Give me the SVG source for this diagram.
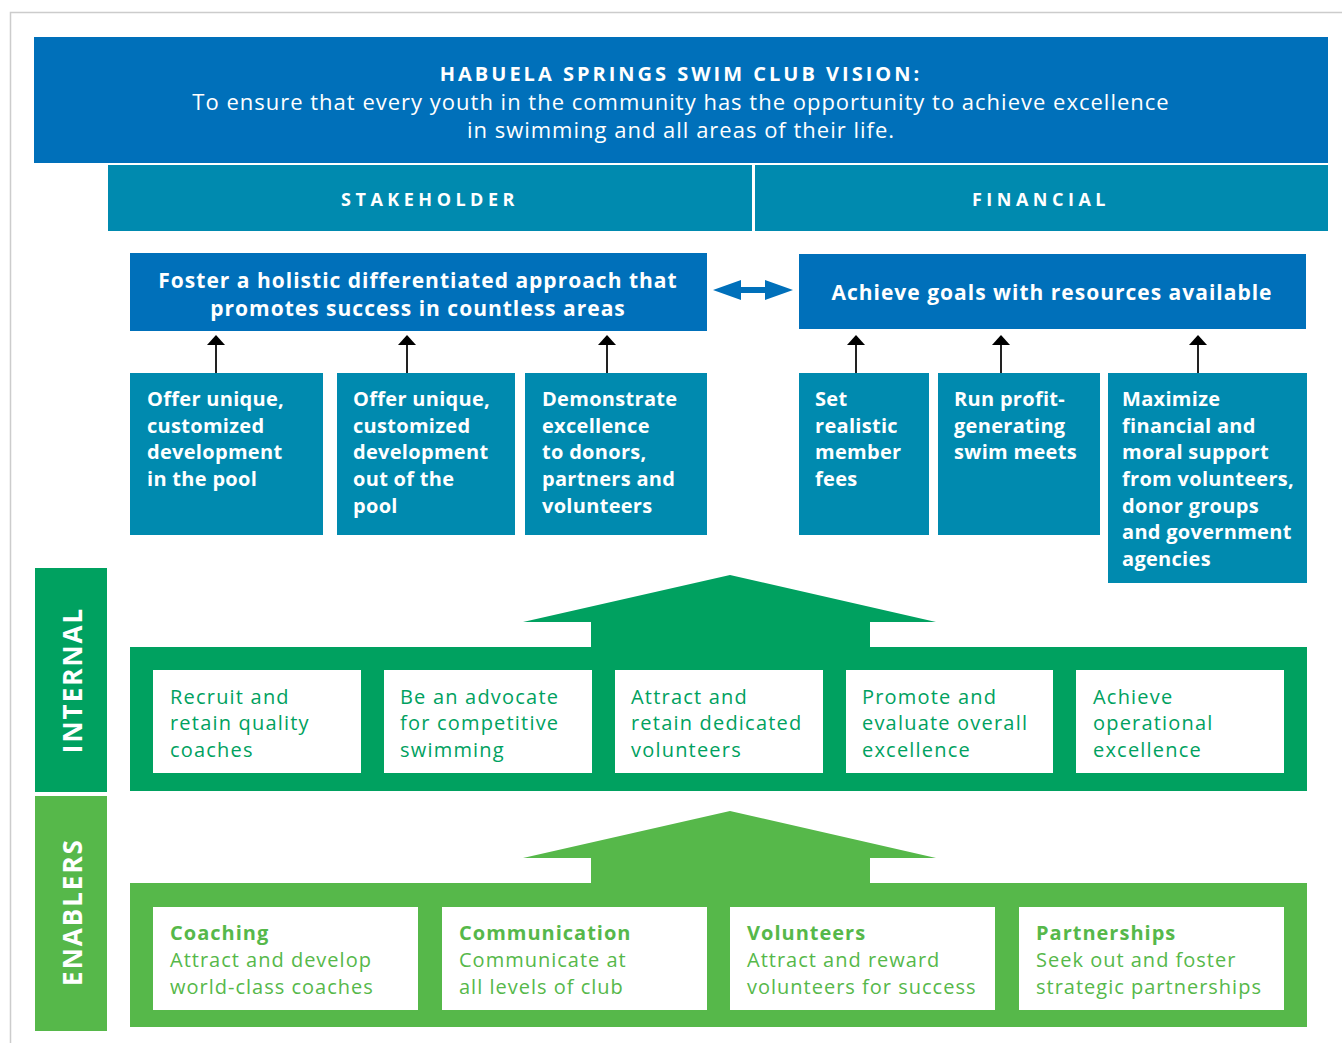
<svg xmlns="http://www.w3.org/2000/svg" width="1342" height="1043" viewBox="0 0 1342 1043">
<style>
  text { font-family: "Open Sans", "Liberation Sans", sans-serif; }
  .blue { fill: #0070BA; }
  .teal { fill: #008AAF; }
  .g1 { fill: #00A160; }
  .g2 { fill: #56B84A; }
  .wt { fill: #ffffff; }
  .hd { font-size: 20px; font-weight: 700; letter-spacing: 3px; fill: #fff; }
  .sub { font-size: 22px; letter-spacing: 1px; fill: #fff; }
  .cat { font-size: 18px; font-weight: 700; letter-spacing: 4.5px; fill: #fff; }
  .obj { font-size: 21px; font-weight: 700; letter-spacing: 1px; fill: #fff; }
  .tb { font-size: 20px; font-weight: 700; letter-spacing: 0.3px; fill: #fff; }
  .side { font-size: 26px; font-weight: 700; letter-spacing: 2px; fill: #fff; }
  .it { font-size: 20px; letter-spacing: 1.2px; fill: #00A160; }
  .et { font-size: 20px; letter-spacing: 1px; fill: #56B84A; }
  .etb { font-size: 20px; font-weight: 700; letter-spacing: 1px; fill: #56B84A; }
  .conn { stroke: #222; stroke-width: 2; fill: none; }
</style>
<defs>
  <marker id="ah" markerWidth="10" markerHeight="18" refX="0" refY="9" orient="auto" markerUnits="userSpaceOnUse" viewBox="0 0 10 18">
    <path d="M0,0 L10,9 L0,18 Z" fill="#000"/>
  </marker>
</defs>
<rect width="1342" height="1043" fill="#fff"/>
<path d="M10.5,1043 V12.5 H1342" stroke="#cccccc" stroke-width="1.5" fill="none"/>

<g id="vision">
  <rect x="34" y="37" width="1294" height="126" class="blue"/>
  <text x="681" y="81" text-anchor="middle" class="hd">HABUELA SPRINGS SWIM CLUB VISION:</text>
  <text x="681" y="110" text-anchor="middle" class="sub">To ensure that every youth in the community has the opportunity to achieve excellence</text>
  <text x="681" y="138" text-anchor="middle" class="sub">in swimming and all areas of their life.</text>
</g>
<g id="stakeholder">
  <rect x="108" y="165" width="644" height="66" class="teal"/>
  <text x="430" y="206" text-anchor="middle" class="cat">STAKEHOLDER</text>
</g>
<g id="financial">
  <rect x="755" y="165" width="573" height="66" class="teal"/>
  <text x="1041" y="206" text-anchor="middle" class="cat">FINANCIAL</text>
</g>

<g id="foster">
  <rect x="130" y="253" width="577" height="78" class="blue"/>
  <text x="418" y="288" text-anchor="middle" class="obj">Foster a holistic differentiated approach that</text>
  <text x="418" y="316" text-anchor="middle" class="obj">promotes success in countless areas</text>
</g>
<g id="achieve">
  <rect x="799" y="254" width="507" height="75" class="blue"/>
  <text x="1052" y="300" text-anchor="middle" class="obj">Achieve goals with resources available</text>
</g>

<g id="s1">
  <rect x="130" y="373" width="193" height="162" class="teal"/>
  <text class="tb"><tspan x="147" y="406">Offer unique,</tspan><tspan x="147" y="433">customized</tspan><tspan x="147" y="459">development</tspan><tspan x="147" y="486">in the pool</tspan></text>
</g>
<g id="s2">
  <rect x="337" y="373" width="178" height="162" class="teal"/>
  <text class="tb"><tspan x="353" y="406">Offer unique,</tspan><tspan x="353" y="433">customized</tspan><tspan x="353" y="459">development</tspan><tspan x="353" y="486">out of the</tspan><tspan x="353" y="513">pool</tspan></text>
</g>
<g id="s3">
  <rect x="525" y="373" width="182" height="162" class="teal"/>
  <text class="tb"><tspan x="542" y="406">Demonstrate</tspan><tspan x="542" y="433">excellence</tspan><tspan x="542" y="459">to donors,</tspan><tspan x="542" y="486">partners and</tspan><tspan x="542" y="513">volunteers</tspan></text>
</g>
<g id="f1">
  <rect x="799" y="373" width="130" height="162" class="teal"/>
  <text class="tb"><tspan x="815" y="406">Set</tspan><tspan x="815" y="433">realistic</tspan><tspan x="815" y="459">member</tspan><tspan x="815" y="486">fees</tspan></text>
</g>
<g id="f2">
  <rect x="938" y="373" width="162" height="162" class="teal"/>
  <text class="tb"><tspan x="954" y="406">Run profit-</tspan><tspan x="954" y="433">generating</tspan><tspan x="954" y="459">swim meets</tspan></text>
</g>
<g id="f3">
  <rect x="1108" y="373" width="199" height="210" class="teal"/>
  <text class="tb"><tspan x="1122" y="406">Maximize</tspan><tspan x="1122" y="433">financial and</tspan><tspan x="1122" y="459">moral support</tspan><tspan x="1122" y="486">from volunteers,</tspan><tspan x="1122" y="513">donor groups</tspan><tspan x="1122" y="539">and government</tspan><tspan x="1122" y="566">agencies</tspan></text>
</g>

<g id="connectors">
  <path d="M713,290 L741,280 L741,287 L765,287 L765,280 L793,290 L765,300 L765,293 L741,293 L741,300 Z" fill="#0070BA"/>
  <line x1="216" y1="373" x2="216" y2="345" class="conn" marker-end="url(#ah)"/>
  <line x1="407" y1="373" x2="407" y2="345" class="conn" marker-end="url(#ah)"/>
  <line x1="607" y1="373" x2="607" y2="345" class="conn" marker-end="url(#ah)"/>
  <line x1="856" y1="373" x2="856" y2="345" class="conn" marker-end="url(#ah)"/>
  <line x1="1001" y1="373" x2="1001" y2="345" class="conn" marker-end="url(#ah)"/>
  <line x1="1198" y1="373" x2="1198" y2="345" class="conn" marker-end="url(#ah)"/>
  <path d="M730,575 L936,622 L870,622 L870,648 L591,648 L591,622 L523,622 Z" class="g1"/>
  <path d="M730,811 L936,858 L870,858 L870,884 L591,884 L591,858 L523,858 Z" class="g2"/>
</g>

<g id="internal-label">
  <rect x="35" y="568" width="72" height="224" class="g1"/>
  <text transform="translate(82,680) rotate(-90)" text-anchor="middle" class="side">INTERNAL</text>
</g>
<g id="enablers-label">
  <rect x="35" y="796" width="72" height="235" class="g2"/>
  <text transform="translate(82,912) rotate(-90)" text-anchor="middle" class="side">ENABLERS</text>
</g>

<g id="internal-frame">
  <rect x="130" y="647" width="1177" height="144" class="g1"/>
</g>
<g id="i1">
  <rect x="153" y="670" width="208" height="103" class="wt"/>
  <text class="it"><tspan x="170" y="704">Recruit and</tspan><tspan x="170" y="730">retain quality</tspan><tspan x="170" y="757">coaches</tspan></text>
</g>
<g id="i2">
  <rect x="384" y="670" width="208" height="103" class="wt"/>
  <text class="it"><tspan x="400" y="704">Be an advocate</tspan><tspan x="400" y="730">for competitive</tspan><tspan x="400" y="757">swimming</tspan></text>
</g>
<g id="i3">
  <rect x="615" y="670" width="208" height="103" class="wt"/>
  <text class="it"><tspan x="631" y="704">Attract and</tspan><tspan x="631" y="730">retain dedicated</tspan><tspan x="631" y="757">volunteers</tspan></text>
</g>
<g id="i4">
  <rect x="846" y="670" width="207" height="103" class="wt"/>
  <text class="it"><tspan x="862" y="704">Promote and</tspan><tspan x="862" y="730">evaluate overall</tspan><tspan x="862" y="757">excellence</tspan></text>
</g>
<g id="i5">
  <rect x="1076" y="670" width="208" height="103" class="wt"/>
  <text class="it"><tspan x="1093" y="704">Achieve</tspan><tspan x="1093" y="730">operational</tspan><tspan x="1093" y="757">excellence</tspan></text>
</g>

<g id="enablers-frame">
  <rect x="130" y="883" width="1177" height="144" class="g2"/>
</g>
<g id="e1">
  <rect x="153" y="907" width="265" height="103" class="wt"/>
  <text class="etb" x="170" y="940">Coaching</text>
  <text class="et"><tspan x="170" y="967">Attract and develop</tspan><tspan x="170" y="994">world-class coaches</tspan></text>
</g>
<g id="e2">
  <rect x="442" y="907" width="265" height="103" class="wt"/>
  <text class="etb" x="459" y="940">Communication</text>
  <text class="et"><tspan x="459" y="967">Communicate at</tspan><tspan x="459" y="994">all levels of club</tspan></text>
</g>
<g id="e3">
  <rect x="730" y="907" width="265" height="103" class="wt"/>
  <text class="etb" x="747" y="940">Volunteers</text>
  <text class="et"><tspan x="747" y="967">Attract and reward</tspan><tspan x="747" y="994">volunteers for success</tspan></text>
</g>
<g id="e4">
  <rect x="1019" y="907" width="265" height="103" class="wt"/>
  <text class="etb" x="1036" y="940">Partnerships</text>
  <text class="et"><tspan x="1036" y="967">Seek out and foster</tspan><tspan x="1036" y="994">strategic partnerships</tspan></text>
</g>
</svg>
